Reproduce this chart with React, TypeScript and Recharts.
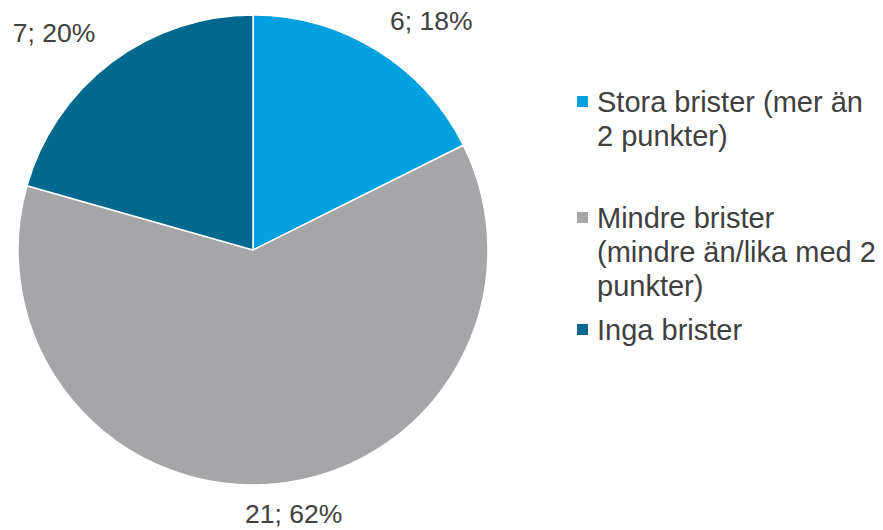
import React from "react";
import { PieChart, Pie, Cell, Legend } from "recharts";

const categories = [
	"Stora brister (mer än 2 punkter)",
	"Mindre brister (mindre än/lika med 2 punkter)",
	"Inga brister",
];
const counts = [6, 21, 7];
const percentLabels = ["18%", "62%", "20%"];

const COLORS = ["#00A1DE", "#A6A6A8", "#00698D"];
const TEXT = "#404040";
const FONT = "'Liberation Sans', Arial, sans-serif";

const data = categories.map((name, i) => ({
	name,
	value: counts[i],
	pct: percentLabels[i],
}));

const RAD = Math.PI / 180;

function renderLabel(props: any) {
	const { cx, cy, midAngle, outerRadius, index } = props;
	const r = outerRadius + 10;
	const cos = Math.cos(-midAngle * RAD);
	const sin = Math.sin(-midAngle * RAD);
	const x = cx + r * cos;
	const y = cy + r * sin;
	const anchor = cos > 0.3 ? "start" : cos < -0.3 ? "end" : "middle";
	const dy = sin < 0 ? -12 : 29;
	const dx = anchor === "start" ? 8 : anchor === "end" ? -10 : 18;
	const d = data[index];
	return (
		<text
			x={x + dx}
			y={y + dy}
			textAnchor={anchor}
			fill={TEXT}
			fontSize={26.5}
			fontFamily={FONT}
		>
			{`${d.value}; ${d.pct}`}
		</text>
	);
}

const GAPS = [0, 48, 10];

function LegendContent() {
	return (
		<div style={{ fontFamily: FONT, fontSize: 29, lineHeight: "34px", color: TEXT }}>
			{data.map((d, i) => (
				<div
					key={d.name}
					style={{ display: "flex", alignItems: "flex-start", marginTop: GAPS[i] }}
				>
					<div
						style={{
							width: 11,
							height: 11,
							background: COLORS[i],
							marginTop: 11,
							marginRight: 9,
							flexShrink: 0,
						}}
					/>
					<div style={{ width: 281 }}>{d.name}</div>
				</div>
			))}
		</div>
	);
}

export default function App() {
	return (
		<div style={{ position: "absolute", left: 0, top: 0, width: 883, height: 530, background: "#fff" }}>
			<PieChart width={883} height={530} margin={{ top: 0, right: 0, bottom: 0, left: 0 }}>
				<Pie
					data={data}
					dataKey="value"
					nameKey="name"
					cx={253}
					cy={250}
					outerRadius={235}
					startAngle={90}
					endAngle={-270}
					stroke="#ffffff"
					strokeWidth={1.5}
					label={renderLabel}
					labelLine={false}
					isAnimationActive={false}
				>
					{data.map((entry, idx) => (
						<Cell key={`cell-${idx}`} fill={COLORS[idx]} />
					))}
				</Pie>
				<Legend
					content={<LegendContent />}
					wrapperStyle={{ left: 577, top: 85, width: 306 }}
				/>
			</PieChart>
		</div>
	);
}
